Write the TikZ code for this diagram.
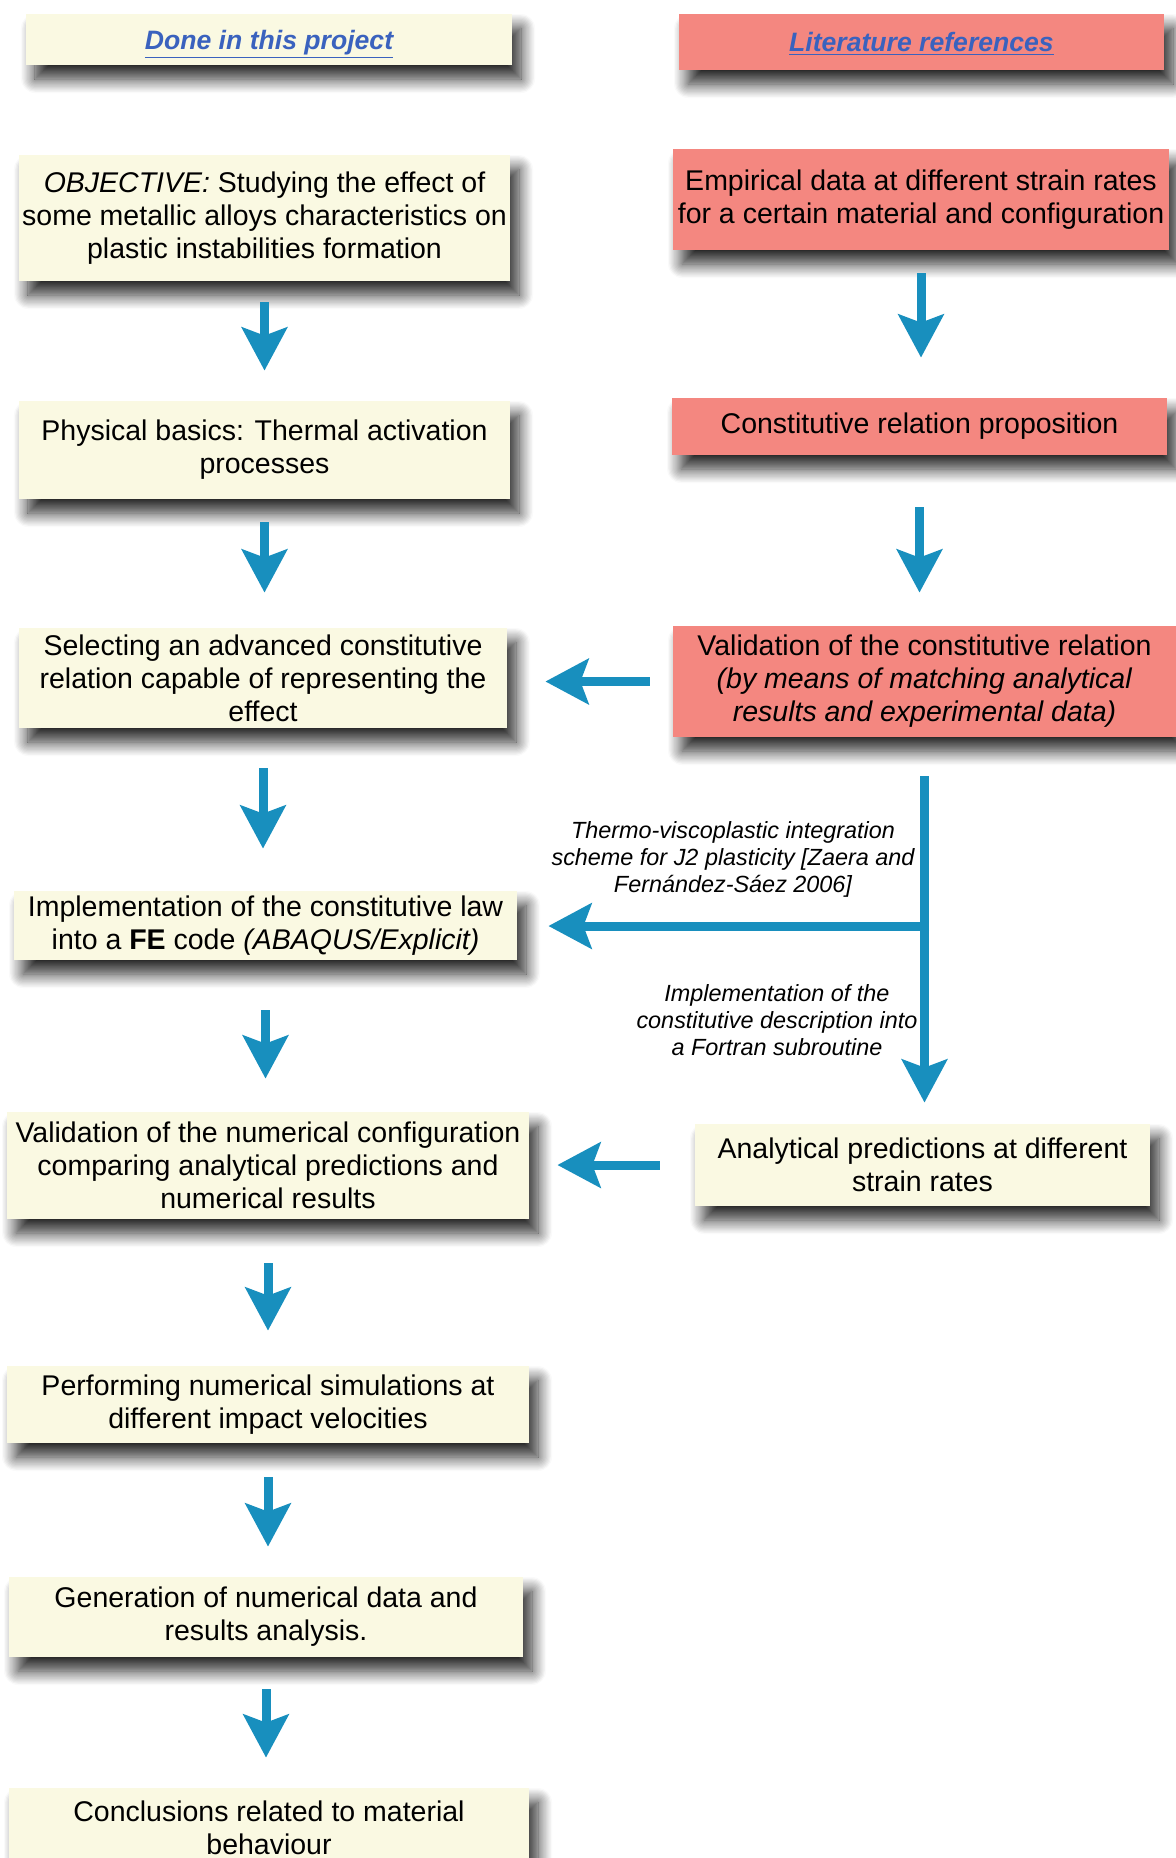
\documentclass[tikz,border=0pt]{standalone}
\usepackage{fontspec}
\setmainfont{Liberation Sans}
\usetikzlibrary{arrows.meta,shadows.blur}
\definecolor{cream}{RGB}{250,249,226}
\definecolor{salmon}{RGB}{244,135,128}
\definecolor{arrowblue}{RGB}{24,143,190}
\definecolor{titleblue}{RGB}{58,98,190}
\begin{document}
\begin{tikzpicture}[x=0.5pt,y=-0.5pt,
  box/.style={inner sep=0pt, align=center, font=\fontsize{14.25}{16.5}\selectfont, fill=cream,
    blur shadow={shadow xshift=4.5pt, shadow yshift=-7pt, shadow blur radius=7pt, shadow opacity=85, shadow blur steps=12}},
  redbox/.style={box, fill=salmon},
  ttl/.style={font=\fontsize{13.3}{15}\selectfont\bfseries\itshape, text=titleblue, text depth=0pt},
  arr/.style={draw=arrowblue, line width=4.5pt, -{Stealth[length=21.5pt, width=22.5pt, inset=4pt]}},
  lbl/.style={font=\fontsize{11.7}{13.5}\selectfont\itshape, align=center, inner sep=0pt}]
\useasboundingbox (0,0) rectangle (1176,1858);
\clip (0,0) rectangle (1176,1858);

% headers
\node[box, ttl, minimum width=243pt, minimum height=25.5pt] (done) at (269,39.5) {\underline{Done in this project}};
\node[redbox, ttl, minimum width=242.5pt, minimum height=28pt] (lit) at (921.5,42) {\underline{Literature references}};

% left column
\node[box, minimum width=245.5pt, minimum height=63pt] (obj) at (264.5,218)
  {\textit{OBJECTIVE:} Studying the effect of\\some metallic alloys characteristics on\\plastic instabilities formation};
\node[box, minimum width=245.5pt, minimum height=49pt] (phys) at (264.5,450)
  {Physical basics: Thermal activation\\processes};
\node[box, minimum width=244pt, minimum height=50pt] (sel) at (263,678)
  {Selecting an advanced constitutive\\relation capable of representing the\\effect};
\node[box, minimum width=251.5pt, minimum height=34.5pt] (impl) at (265.5,925.5)
  {Implementation of the constitutive law\\into a \textbf{FE} code \textit{(ABAQUS/Explicit)}};
\node[box, minimum width=261pt, minimum height=53.5pt] (valn) at (268,1165.5)
  {Validation of the numerical configuration\\comparing analytical predictions and\\numerical results};
\node[box, minimum width=261pt, minimum height=38.5pt] (perf) at (268,1404.5)
  {Performing numerical simulations at\\different impact velocities};
\node[box, minimum width=257pt, minimum height=40pt] (gen) at (266,1617)
  {Generation of numerical data and\\results analysis.};
\node[box, minimum width=260pt, minimum height=40pt] (concl) at (269,1828)
  {Conclusions related to material\\behaviour};

% right column
\node[redbox, minimum width=248pt, minimum height=50.5pt] (emp) at (921,199.5)
  {Empirical data at different strain rates\\for a certain material and configuration};
\node[redbox, minimum width=247.5pt, minimum height=28.5pt] (crp) at (919.5,426.5)
  {Constitutive relation proposition};
\node[redbox, minimum width=251.5pt, minimum height=55.5pt] (valc) at (924.5,681.5)
  {Validation of the constitutive relation\\\textit{(by means of matching analytical}\\\textit{results and experimental data)}};
\node[box, minimum width=227.5pt, minimum height=41pt] (anal) at (922.5,1165)
  {Analytical predictions at different\\strain rates};

% labels
\node[lbl] (l1) at (733,859) {Thermo-viscoplastic integration\\scheme for J2 plasticity [Zaera and\\Fernández-Sáez 2006]};
\node[lbl] (l2) at (777,1020) {Implementation of the\\constitutive description into\\a Fortran subroutine};

% arrows, left column
\draw[arr, shorten <=10.5pt, shorten >=15pt] (obj.south) -- (obj.south |- phys.north);
\draw[arr, shorten <=11.5pt, shorten >=17.5pt] (phys.south) -- (phys.south |- sel.north);
\draw[arr, shorten <=20pt, shorten >=21pt] (sel.south) -- (sel.south |- impl.north);
\draw[arr, shorten <=25pt, shorten >=16.5pt] (impl.south) -- (impl.south |- valn.north);
\draw[arr, shorten <=22pt, shorten >=17.5pt] (valn.south) -- (valn.south |- perf.north);
\draw[arr, shorten <=17pt, shorten >=15pt] (perf.south) -- (perf.south |- gen.north);
\draw[arr, shorten <=16pt, shorten >=15pt] (gen.south) -- (gen.south |- concl.north);

% arrows, right column
\draw[arr, shorten <=11.5pt, shorten >=20pt] (emp.south) -- (emp.south |- crp.north);
\draw[arr, shorten <=26pt, shorten >=16.5pt] (crp.south) -- (crp.south |- valc.north);

% horizontal arrows
\draw[arr, shorten <=11.5pt, shorten >=19pt] (valc.west) -- (valc.west -| sel.east);
\draw[arr, shorten <=17.5pt, shorten >=14pt] (anal.west) -- (anal.west -| valn.east);

% branch
\draw[arr, shorten <=19.5pt, shorten >=10.5pt] (valc.south) -- (valc.south |- anal.north);
\coordinate (vjoin) at (929,926);
\draw[arr, shorten >=15.5pt] (vjoin) -- (vjoin -| impl.east);
\end{tikzpicture}
\end{document}
